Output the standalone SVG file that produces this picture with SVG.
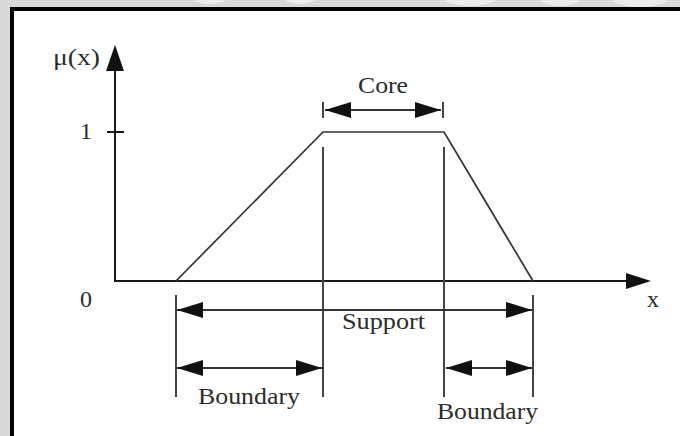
<svg xmlns="http://www.w3.org/2000/svg" width="680" height="436" viewBox="0 0 680 436">
  <style>
    .txt { font-family: "Liberation Serif", "Times New Roman", serif; font-size: 24px; fill: #2b2b2b; }
    .axis { stroke: #1a1a1a; stroke-width: 2; fill: none; }
    .curve { stroke: #333; stroke-width: 1.7; fill: none; }
    .guide { stroke: #444; stroke-width: 2; fill: none; }
    .dim { stroke: #333; stroke-width: 2; fill: none; marker-start: url(#ah); marker-end: url(#ah); }
    .wm { fill: #ececec; }
  </style>
  <defs>
    <marker id="ah" markerUnits="userSpaceOnUse" viewBox="0 0 26 16" markerWidth="26" markerHeight="16" refX="26" refY="8" orient="auto-start-reverse">
      <path d="M0,0 L26,8 L0,16 Z" fill="#111"/>
    </marker>
    <clipPath id="topstrip"><rect x="0" y="0" width="680" height="7"/></clipPath>
  </defs>

  <!-- background and frame -->
  <rect x="0" y="0" width="680" height="436" fill="#d9d9d9"/>
  <g clip-path="url(#topstrip)">
    <ellipse class="wm" cx="470" cy="-6" rx="30" ry="12"/>
    <ellipse class="wm" cx="560" cy="-4" rx="22" ry="10"/>
    <ellipse class="wm" cx="640" cy="-2" rx="28" ry="9"/>
    <ellipse class="wm" cx="210" cy="-6" rx="20" ry="10"/>
    <ellipse class="wm" cx="300" cy="-5" rx="18" ry="9"/>
  </g>
  <rect x="10" y="7" width="670" height="429" fill="#000"/>
  <rect x="14" y="11" width="666" height="425" fill="#fff"/>

  <!-- axes -->
  <g id="axes">
    <line class="axis" x1="115" y1="282" x2="115" y2="68"/>
    <polygon points="115,45 106,71 124,71" fill="#111"/>
    <line class="axis" x1="107" y1="132" x2="124" y2="132"/>
    <line class="axis" x1="114" y1="281" x2="630" y2="281"/>
    <polygon points="651,281 626,273 626,289" fill="#111"/>
  </g>

  <!-- membership function -->
  <g id="membership">
    <polyline class="curve" points="176,281 323,132 444,132 533,281"/>
  </g>

  <!-- guide lines -->
  <g id="guides">
    <line class="guide" x1="323" y1="147" x2="323" y2="397"/>
    <line class="guide" x1="444" y1="147" x2="444" y2="397"/>
    <line class="guide" x1="176" y1="295" x2="176" y2="397"/>
    <line class="guide" x1="533" y1="295" x2="533" y2="397"/>
    <line class="guide" x1="323" y1="102" x2="323" y2="118"/>
    <line class="guide" x1="443" y1="102" x2="443" y2="118"/>
  </g>

  <!-- dimension arrows -->
  <g id="connectors">
    <line class="dim" x1="325" y1="110" x2="441" y2="110"/>
    <line class="dim" x1="177" y1="310" x2="532" y2="310"/>
    <line class="dim" x1="177" y1="368" x2="322" y2="368"/>
    <line class="dim" x1="446" y1="368" x2="532" y2="368"/>
  </g>

  <!-- labels -->
  <g id="labels">
    <text class="txt" x="53" y="65" textLength="47" lengthAdjust="spacingAndGlyphs">μ(x)</text>
    <text class="txt" x="80" y="139">1</text>
    <text class="txt" x="80" y="307">0</text>
    <text class="txt" x="647" y="307">x</text>
    <text class="txt" x="358" y="93" textLength="50" lengthAdjust="spacingAndGlyphs">Core</text>
    <text class="txt" x="342" y="329" textLength="83" lengthAdjust="spacingAndGlyphs">Support</text>
    <text class="txt" x="198" y="404" textLength="102" lengthAdjust="spacingAndGlyphs">Boundary</text>
    <text class="txt" x="437" y="419" textLength="101" lengthAdjust="spacingAndGlyphs">Boundary</text>
  </g>
</svg>
